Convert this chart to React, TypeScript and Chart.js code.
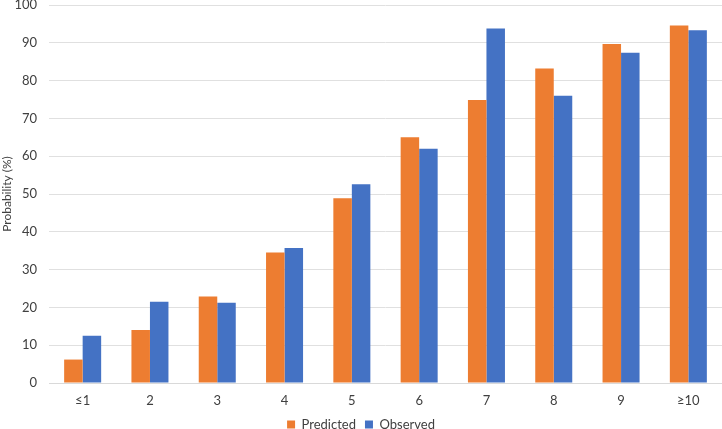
import React, { useEffect, useRef } from "react";
import { Chart, registerables } from "chart.js";

Chart.register(...registerables);

const categories = ["≤1", "2", "3", "4", "5", "6", "7", "8", "9", "≥10"];
const predicted = [6.2, 14.0, 22.9, 34.5, 48.9, 65.0, 74.9, 83.2, 89.7, 94.6];
const observed = [12.5, 21.5, 21.2, 35.7, 52.6, 62.0, 93.8, 76.0, 87.4, 93.3];
const yTicksMax = 100;
const yStep = 10;

export default function App() {
  const ref = useRef<HTMLCanvasElement | null>(null);

  useEffect(() => {
    document.body.style.margin = "0";
    const ctx = ref.current;
    if (!ctx) return;
    const font = "Lato, 'Open Sans', sans-serif";
    const chart = new Chart(ctx, {
      type: "bar",
      data: {
        labels: categories,
        datasets: [
          {
            label: "Predicted",
            data: predicted,
            backgroundColor: "#ED7D31",
            categoryPercentage: 0.55,
            barPercentage: 1,
          },
          {
            label: "Observed",
            data: observed,
            backgroundColor: "#4472C4",
            categoryPercentage: 0.55,
            barPercentage: 1,
          },
        ],
      },
      options: {
        animation: false,
        responsive: false,
        maintainAspectRatio: false,
        layout: { padding: { top: 0, right: 0, left: 0, bottom: -12 } },
        plugins: {
          legend: {
            position: "bottom",
            labels: {
              boxWidth: 8,
              boxHeight: 8,
              padding: 9,
              color: "#404040",
              font: { family: font, size: 13 },
            },
          },
          tooltip: { enabled: false },
        },
        scales: {
          x: {
            afterFit: (scale: any) => {
              scale.height = 26;
            },
            grid: { display: false, drawTicks: false },
            border: { display: true, color: "#D9D9D9", width: 1 },
            ticks: { color: "#404040", font: { family: font, size: 13 }, padding: 10 },
          },
          y: {
            min: 0,
            max: yTicksMax,
            afterFit: (scale: any) => {
              scale.width = 49;
              scale.paddingTop = 5;
            },
            grid: { color: "#E0E0E0", drawTicks: false, lineWidth: 1 },
            border: { display: false },
            ticks: {
              stepSize: yStep,
              color: "#404040",
              font: { family: font, size: 13 },
              padding: 12,
            },
            title: {
              display: true,
              text: "Probability (%)",
              color: "#404040",
              font: { family: font, size: 12 },
              padding: { top: 0, bottom: 0 },
            },
          },
        },
      },
    });
    return () => chart.destroy();
  }, []);

  return (
    <div style={{ position: "fixed", left: 0, top: 0, width: 722, height: 429, background: "#fff" }}>
      <canvas ref={ref} width={722} height={429} />
    </div>
  );
}
